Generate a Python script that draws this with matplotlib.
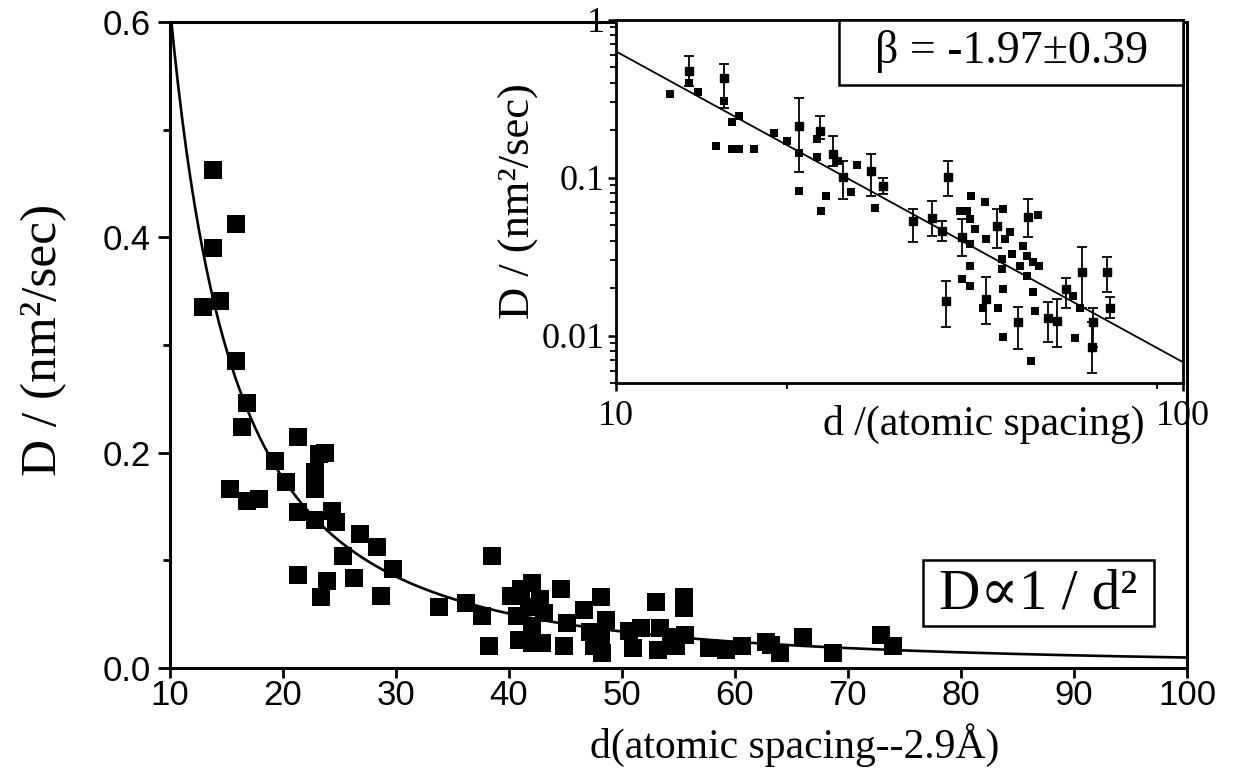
import matplotlib
matplotlib.use("Agg")
import matplotlib.pyplot as plt
import numpy as np
from matplotlib.patches import Rectangle
from matplotlib.ticker import FixedLocator, LogLocator, NullFormatter

plt.rcParams['font.family'] = ['Liberation Serif', 'DejaVu Serif']

# ---------------- data: main panel ----------------
main_d = [12.9, 13.8, 13.8, 14.4, 15.8, 15.8, 16.8, 16.4, 15.3, 16.8, 17.9, 19.3, 20.3,
          21.3, 21.3, 21.3, 22.8, 22.8, 22.8, 23.2, 23.7, 23.9, 23.4, 24.3, 24.7, 25.3,
          26.3, 26.8, 28.3, 28.7, 29.7, 33.8, 36.2, 37.6, 38.2, 38.5, 40.2, 41.1, 42.0,
          42.7, 41.8, 43.1, 40.7, 42.0, 40.9, 42.0, 42.9, 44.6, 44.9, 45.1, 46.6, 48.1,
          47.2, 48.6, 48.1, 47.5, 48.2, 50.6, 51.7, 51.0, 53.0, 55.5, 55.5, 53.4, 54.3,
          53.2, 55.6, 54.8, 57.7, 59.2, 60.6, 62.7, 63.2, 64.0, 66.0, 68.7, 72.9, 74.0]
main_D = [0.335, 0.463, 0.390, 0.341, 0.412, 0.285, 0.246, 0.224, 0.166, 0.155, 0.157, 0.192, 0.173,
          0.215, 0.145, 0.086, 0.182, 0.166, 0.137, 0.199, 0.200, 0.081, 0.066, 0.146, 0.136, 0.104,
          0.084, 0.124, 0.112, 0.067, 0.092, 0.057, 0.060, 0.048, 0.020, 0.104, 0.067, 0.073, 0.079,
          0.064, 0.057, 0.051, 0.048, 0.039, 0.026, 0.023, 0.023, 0.073, 0.020, 0.042, 0.054, 0.066,
          0.033, 0.045, 0.029, 0.020, 0.014, 0.034, 0.037, 0.019, 0.061, 0.066, 0.056, 0.037, 0.029,
          0.017, 0.031, 0.020, 0.019, 0.017, 0.020, 0.024, 0.021, 0.014, 0.029, 0.014, 0.031, 0.020]
MAIN_FIT_A = 38.7
MAIN_FIT_EXP = -1.8
main_xticks = [10, 20, 30, 40, 50, 60, 70, 80, 90, 100]
main_yticks = [0.0, 0.2, 0.4, 0.6]
main_yticklabels = ["0.0", "0.2", "0.4", "0.6"]
main_yminor = [0.1, 0.3, 0.5]

# ---------------- data: inset (log-log) ----------------
inset_d = [12.45, 13.45, 13.95, 15.5, 16.0, 16.5, 15.0, 16.0, 16.5, 17.5, 19.0, 20.0, 21.0,
           21.0, 22.6, 22.6, 23.5, 23.0, 24.6, 26.0, 26.6, 28.6,
           42.3, 40.4, 41.6, 43.0, 42.1, 42.1, 44.7, 45.0, 42.1, 40.8, 42.1, 48.1, 48.5,
           47.9, 47.9, 48.1, 47.2, 44.4, 48.1, 53.9, 55.6, 52.2, 53.0, 54.3, 51.6, 53.0,
           54.3, 54.8, 55.8, 64.0, 65.7, 64.5, 50.0, 49.5]
inset_D = [0.338, 0.397, 0.348, 0.305, 0.227, 0.245, 0.160, 0.153, 0.153, 0.153, 0.193, 0.172, 0.144,
           0.0825, 0.177, 0.136, 0.077, 0.0617, 0.128, 0.0815, 0.121, 0.064,
           0.0769, 0.0617, 0.0617, 0.0473, 0.055, 0.038, 0.0705, 0.041, 0.0275, 0.0227, 0.0205, 0.0637, 0.041,
           0.0305, 0.0263, 0.0196, 0.0150, 0.0150, 0.0098, 0.0069, 0.0583, 0.0369, 0.0318, 0.0292, 0.0275, 0.0239,
           0.0188, 0.0142, 0.0275, 0.0177, 0.0150, 0.0096, 0.033, 0.045]
# points carrying error bars
bar_d = [13.45, 15.5, 21.0, 22.9, 24.1, 25.1, 28.2, 29.6, 33.4, 36.1, 37.6, 38.5, 38.2,
         40.8, 47.0, 45.0, 51.2, 53.2, 57.7, 59.9, 62.3, 66.3, 69.4, 69.0, 73.5, 74.3]
bar_D = [0.473, 0.427, 0.214, 0.199, 0.142, 0.101, 0.111, 0.089, 0.0532, 0.0557, 0.0459, 0.101, 0.0165,
         0.042, 0.0496, 0.0170, 0.0121, 0.0565, 0.0130, 0.0123, 0.0196, 0.0252, 0.0121, 0.0085, 0.0252, 0.0150]
bar_lo = [0.380, 0.275, 0.109, 0.177, 0.118, 0.0735, 0.077, 0.079, 0.0392, 0.0427, 0.040, 0.077, 0.0114,
          0.0318, 0.036, 0.0118, 0.0082, 0.042, 0.0091, 0.0085, 0.0150, 0.0150, 0.0085, 0.0058, 0.0189, 0.0130]
bar_hi = [0.589, 0.524, 0.318, 0.245, 0.183, 0.127, 0.142, 0.099, 0.0637, 0.0713, 0.053, 0.127, 0.0222,
          0.055, 0.063, 0.0234, 0.0151, 0.0737, 0.0163, 0.0170, 0.0230, 0.0363, 0.0150, 0.0121, 0.0314, 0.0175]
INSET_FIT_A = 59.0
INSET_BETA = -1.97
inset_xticks = [10, 100]
inset_xticklabels = ["10", "100"]
inset_xminor = [20, 90]
inset_yticks = [0.01, 0.1, 1]
inset_yticklabels = ["0.01", "0.1", "1"]

# ---------------- figure ----------------
W, H = 1241, 782
fig = plt.figure(figsize=(W / 100, H / 100), dpi=100)


def px_rect(l, t, r, b):
    return [l / W, 1 - b / H, (r - l) / W, (b - t) / H]


ax = fig.add_axes(px_rect(170, 22, 1187, 668))
ax.set_xlim(10, 100)
ax.set_ylim(0, 0.6)
ax.scatter(main_d, main_D, marker='s', s=150, c='black', linewidths=0, zorder=3)
dd = np.linspace(10, 100, 500)
ax.plot(dd, MAIN_FIT_A * dd ** MAIN_FIT_EXP, color='black', lw=1.9, zorder=2)

ax.set_xticks(main_xticks)
ax.set_xticklabels([str(v) for v in main_xticks])
ax.set_yticks(main_yticks)
ax.set_yticklabels(main_yticklabels)
ax.yaxis.set_minor_locator(FixedLocator(main_yminor))
ax.tick_params(axis='x', which='major', direction='out', length=7, width=2, labelsize=25, pad=1)
ax.tick_params(axis='y', which='major', direction='out', length=9, width=2, labelsize=25, pad=5)
ax.tick_params(axis='y', which='minor', direction='out', length=5, width=2)
for lab in ax.get_xticklabels() + ax.get_yticklabels():
    lab.set_family(['Liberation Sans', 'DejaVu Sans'])
for sp in ax.spines.values():
    sp.set_linewidth(2.2)

fig.text(44 / W, 1 - 340 / H, "D / (nm\u00b2/sec)", rotation=90, ha='center', va='center', fontsize=37)
fig.text(795 / W, 1 - 745 / H, "d(atomic spacing--2.9\u00c5)", ha='center', va='center', fontsize=30)

# D ∝ 1/d² box
ax.add_patch(Rectangle((0.740, 0.065), 0.2276, 0.102, transform=ax.transAxes,
                       facecolor='white', edgecolor='black', lw=1.8, zorder=4))
ax.text(0.854, 0.114, "D\u221d1 / d\u00b2", transform=ax.transAxes, ha='center', va='center',
        fontsize=41, zorder=5)

# ---------------- inset ----------------
axi = fig.add_axes(px_rect(616, 20, 1183, 383))
axi.set_facecolor('white')
axi.set_xscale('log')
axi.set_yscale('log')
axi.set_xlim(10, 100)
axi.set_ylim(0.005, 1)
axi.scatter(inset_d, inset_D, marker='s', s=28, c='black', linewidths=0, zorder=3)
bar_D_arr = np.array(bar_D)
yerr = [bar_D_arr - np.array(bar_lo), np.array(bar_hi) - bar_D_arr]
axi.errorbar(bar_d, bar_D, yerr=yerr, fmt='s', ms=5.5, color='black', mec='black',
             elinewidth=1.3, capsize=3.5, capthick=1.3, zorder=3)
xx = np.logspace(1, 2, 100)
axi.plot(xx, INSET_FIT_A * xx ** INSET_BETA, color='black', lw=1.3, zorder=2)

axi.xaxis.set_major_locator(FixedLocator(inset_xticks))
axi.set_xticklabels(inset_xticklabels)
axi.xaxis.set_minor_locator(FixedLocator(inset_xminor))
axi.xaxis.set_minor_formatter(NullFormatter())
axi.yaxis.set_major_locator(FixedLocator(inset_yticks))
axi.set_yticklabels(inset_yticklabels)
axi.yaxis.set_minor_locator(LogLocator(base=10, subs=np.arange(2, 10)))
axi.yaxis.set_minor_formatter(NullFormatter())
axi.tick_params(axis='both', which='major', direction='out', length=6, width=1.8, labelsize=26, pad=2)
axi.tick_params(axis='both', which='minor', direction='out', length=4, width=1.3)
axi.tick_params(axis='x', which='major', pad=6)
for sp in axi.spines.values():
    sp.set_linewidth(2.0)

axi.set_ylabel("D / (nm\u00b2/sec)", fontsize=32, labelpad=2)
axi.text(0.648, -0.115, "d /(atomic spacing)", transform=axi.transAxes, ha='center', va='center',
         fontsize=30)

axi.add_patch(Rectangle((0.393, 0.821), 0.607, 0.179, transform=axi.transAxes,
                        facecolor='white', edgecolor='black', lw=1.8, zorder=4, clip_on=False))
axi.text(0.697, 0.912, "\u03b2 = -1.97\u00b10.39", transform=axi.transAxes, ha='center', va='center',
         fontsize=33, zorder=5)

fig.savefig("out.png", dpi=100)
